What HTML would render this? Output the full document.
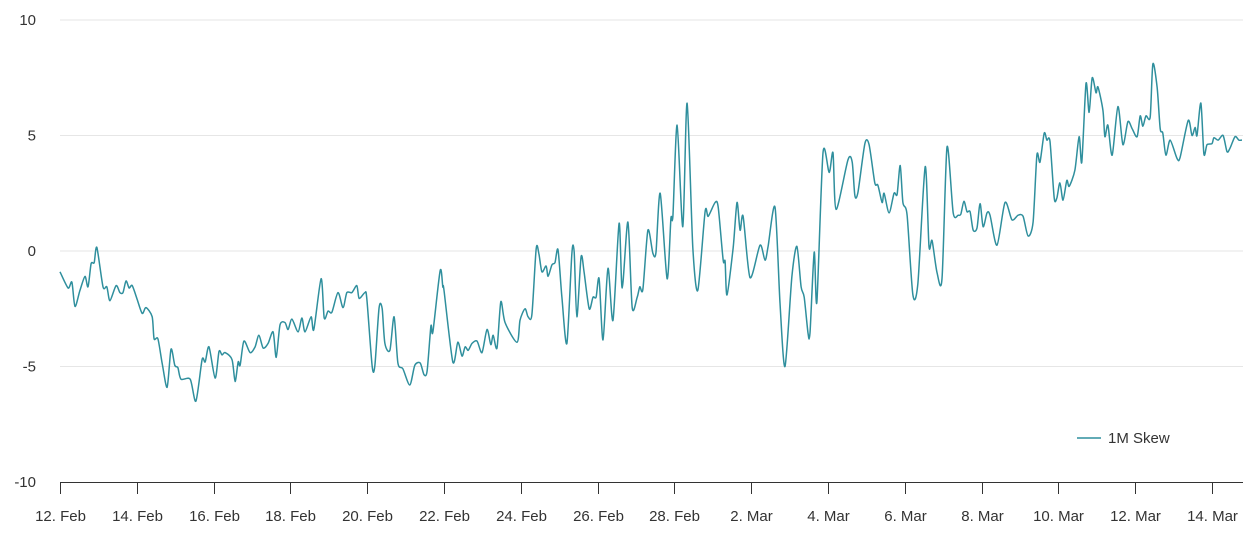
<!DOCTYPE html>
<html><head><meta charset="utf-8"><style>
body{margin:0;background:#fff;font-family:"Liberation Sans",sans-serif}
svg{display:block}
</style></head><body>
<svg id="chart" width="1255" height="536" xmlns="http://www.w3.org/2000/svg">
<g id="grid"></g>
<g id="yaxis"></g>
<g id="xaxis"></g>
<path id="line" fill="none" stroke="#2f8f9d" stroke-width="1.5" stroke-linejoin="round"></path>
<g>
<line x1="1077" y1="438" x2="1101" y2="438" stroke="#2f8f9d" stroke-width="1.5"/>
<text x="1108" y="443" font-size="15" fill="#333">1M Skew</text>
</g>
</svg>
<script>
const yTicks=[10,5,0,-5,-10];
const xTickDays=[0,2,4,6,8,10,12,14,16,18,20,22,24,26,28,30];
const xTickLabels=["12. Feb","14. Feb","16. Feb","18. Feb","20. Feb","22. Feb","24. Feb","26. Feb","28. Feb","2. Mar","4. Mar","6. Mar","8. Mar","10. Mar","12. Mar","14. Mar"];
const days=[0,.21,.31,.39,.52,.65,.73,.81,.89,.96,1.12,1.22,1.30,1.46,1.56,1.64,1.72,1.80,1.88,2.01,2.14,2.24,2.40,2.45,2.55,2.66,2.79,2.89,2.99,3.07,3.15,3.39,3.54,3.70,3.78,3.88,4.04,4.14,4.22,4.30,4.48,4.56,4.64,4.69,4.79,4.95,5.08,5.18,5.29,5.42,5.55,5.63,5.73,5.86,5.94,6.04,6.20,6.30,6.38,6.54,6.61,6.80,6.88,6.98,7.08,7.24,7.37,7.47,7.60,7.73,7.79,7.94,7.99,8.13,8.20,8.31,8.39,8.46,8.59,8.70,8.80,8.93,9.11,9.24,9.38,9.48,9.56,9.66,9.71,9.90,9.97,10.0,10.23,10.36,10.47,10.55,10.63,10.73,10.86,10.99,11.12,11.22,11.28,11.38,11.48,11.59,11.90,11.98,12.11,12.19,12.29,12.40,12.47,12.55,12.66,12.71,12.81,12.89,12.97,13.07,13.20,13.33,13.39,13.46,13.57,13.65,13.78,13.88,13.96,14.04,14.14,14.27,14.40,14.56,14.64,14.79,14.90,15.03,15.10,15.18,15.31,15.44,15.52,15.63,15.81,15.91,15.96,16.07,16.22,16.33,16.48,16.61,16.80,16.88,17.06,17.14,17.27,17.32,17.37,17.53,17.63,17.71,17.79,17.97,18.23,18.36,18.44,18.62,18.75,18.88,19.06,19.19,19.30,19.38,19.48,19.53,19.64,19.71,19.87,20.03,20.13,20.21,20.52,20.63,20.70,20.78,20.96,21.07,21.22,21.30,21.41,21.46,21.59,21.72,21.80,21.88,21.95,22.06,22.21,22.34,22.53,22.63,22.71,22.84,22.97,23.10,23.26,23.39,23.46,23.54,23.62,23.70,23.78,23.88,23.96,24.04,24.14,24.22,24.40,24.61,24.79,24.95,25.08,25.21,25.34,25.44,25.52,25.63,25.70,25.78,25.89,25.96,26.04,26.12,26.22,26.28,26.43,26.54,26.61,26.72,26.80,26.88,26.98,27.03,27.16,27.21,27.29,27.40,27.55,27.68,27.81,27.92,28.05,28.13,28.20,28.28,28.39,28.46,28.57,28.65,28.72,28.80,28.91,29.09,29.17,29.38,29.48,29.56,29.61,29.71,29.79,29.87,30.0,30.05,30.16,30.29,30.39,30.47,30.60,30.70,30.78];
const skew=[-0.9,-1.6,-1.35,-2.4,-1.7,-1.1,-1.55,-0.55,-0.5,0.15,-1.55,-1.55,-2.15,-1.5,-1.8,-1.8,-1.3,-1.6,-1.5,-2.1,-2.7,-2.45,-2.85,-3.8,-3.8,-4.85,-5.9,-4.25,-4.95,-5.05,-5.55,-5.55,-6.5,-4.7,-4.8,-4.15,-5.5,-4.35,-4.5,-4.4,-4.7,-5.65,-4.8,-4.95,-3.9,-4.4,-4.15,-3.65,-4.2,-4.0,-3.5,-4.6,-3.2,-3.1,-3.4,-2.95,-3.5,-2.9,-3.5,-2.85,-3.4,-1.2,-2.9,-2.6,-2.65,-1.8,-2.45,-1.8,-1.8,-1.5,-2.05,-1.8,-2.05,-5.0,-4.95,-2.45,-2.5,-4.0,-4.3,-2.85,-4.85,-5.1,-5.8,-4.95,-4.85,-5.35,-5.2,-3.25,-3.5,-0.85,-1.55,-1.7,-4.8,-3.95,-4.55,-4.15,-4.3,-4.0,-3.9,-4.4,-3.4,-4.05,-3.65,-4.2,-2.2,-3.1,-3.95,-3.0,-2.5,-2.85,-2.75,0.1,-0.1,-0.9,-0.65,-1.1,-0.6,-0.5,0.05,-2.0,-4.0,-0.1,-0.05,-2.85,-0.25,-0.95,-2.5,-2.0,-2.0,-1.2,-3.85,-0.75,-3.0,1.2,-1.6,1.25,-2.45,-2.0,-1.55,-1.65,0.9,-0.1,-0.05,2.5,-1.2,1.4,1.5,5.45,1.05,6.4,0.15,-1.7,1.7,1.5,2.1,1.9,-0.4,-0.45,-1.9,0.15,2.1,0.9,1.5,-1.15,0.25,-0.4,0.2,1.9,-2.25,-5.0,-1.1,0.2,-1.55,-2.0,-3.55,-3.55,-0.05,-2.2,4.25,3.4,4.25,1.8,3.95,3.85,2.4,2.55,4.65,4.6,2.95,2.85,2.1,2.5,1.65,2.5,2.45,3.7,2.1,1.55,-1.9,-1.4,3.65,0.2,0.45,-0.95,-1.2,4.5,1.65,1.55,1.6,2.15,1.7,1.7,0.9,1.0,2.05,1.05,1.65,1.55,0.25,2.1,1.35,1.55,1.5,0.65,1.25,4.15,3.85,5.1,4.8,4.75,2.3,2.3,2.95,2.2,3.05,2.8,3.5,4.95,3.85,7.25,6.0,7.5,6.85,7.1,6.1,4.95,5.45,4.15,6.25,4.6,5.6,5.3,4.95,5.85,5.4,5.85,5.8,8.1,7.1,5.3,5.1,4.15,4.8,4.0,4.05,5.65,5.0,5.35,5.0,6.4,4.2,4.6,4.65,4.9,4.8,5.0,4.3,4.45,4.95,4.8,4.8];

const NS="http://www.w3.org/2000/svg";
const X0=60,PXD=38.4,Y0=251,PXU=23.1;
function xs(d){return X0+d*PXD;}
function ys(v){return Y0-v*PXU;}
function mk(tag,attrs,parent,txt){const e=document.createElementNS(NS,tag);for(const k in attrs)e.setAttribute(k,attrs[k]);if(txt!==undefined)e.textContent=txt;parent.appendChild(e);return e;}
const grid=document.getElementById('grid'),ya=document.getElementById('yaxis'),xa=document.getElementById('xaxis');
yTicks.forEach(v=>{
  if(v!==-10){const g=mk('line',{x1:X0,x2:1243,y1:ys(v),y2:ys(v),stroke:'#e6e6e6','stroke-width':1},grid);
  
  }
  const t=mk('text',{x:36,y:ys(v)+5,'text-anchor':'end','font-size':15,fill:'#333'},ya,String(v));
  
  
});
const ax=mk('line',{x1:X0,x2:1243,y1:482.5,y2:482.5,stroke:'#333','stroke-width':1},xa);


xTickDays.forEach((d,i)=>{
  const x=Math.round(xs(d))+0.5;
  const tk=mk('line',{x1:x,x2:x,y1:482,y2:494,stroke:'#333','stroke-width':1},xa);
  
  
  const t=mk('text',{x:x,y:521,'text-anchor':'middle','font-size':15,fill:'#333'},xa,xTickLabels[i]);
  
  
});
const P=days.map((d,i)=>[xs(d),ys(skew[i])]);
let dstr='M'+P[0][0].toFixed(1)+','+P[0][1].toFixed(1);
for(let i=0;i<P.length-1;i++){
  const p0=P[Math.max(0,i-1)],p1=P[i],p2=P[i+1],p3=P[Math.min(P.length-1,i+2)];
  const k=1/6*0.8;
  const c1=[p1[0]+(p2[0]-p0[0])*k,p1[1]+(p2[1]-p0[1])*k];
  const c2=[p2[0]-(p3[0]-p1[0])*k,p2[1]-(p3[1]-p1[1])*k];
  dstr+=`C${c1[0].toFixed(1)},${c1[1].toFixed(1)} ${c2[0].toFixed(1)},${c2[1].toFixed(1)} ${p2[0].toFixed(1)},${p2[1].toFixed(1)}`;
}
document.getElementById('line').setAttribute('d',dstr);
</script>
</body></html>
